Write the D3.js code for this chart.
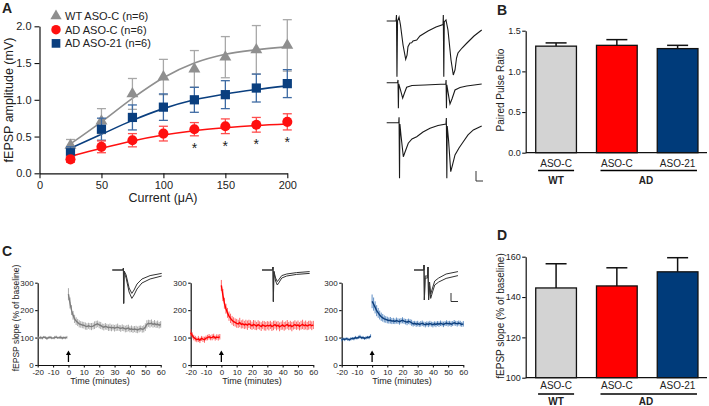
<!DOCTYPE html>
<html><head><meta charset="utf-8">
<script src="https://cdn.jsdelivr.net/npm/d3@7"></script>
<style>body{margin:0;background:#fff}svg{display:block}text{font-family:"Liberation Sans",Arial,sans-serif;fill:#222}</style>
</head><body><svg id="c" width="709" height="406"></svg>
<script>
// ---------- Panel A data ----------
const currents=[25,50,75,100,125,150,175,200];
const wtAmp=[0.38,0.71,1.08,1.31,1.42,1.58,1.68,1.74];
const wtErr=[0.08,0.17,0.21,0.24,0.25,0.28,0.33,0.35];
const adCAmp=[0.19,0.36,0.45,0.54,0.60,0.64,0.66,0.70];
const adCErr=[0.04,0.08,0.09,0.10,0.09,0.10,0.10,0.11];
const ad21Amp=[0.28,0.60,0.76,0.90,1.00,1.07,1.16,1.22];
const ad21Err=[0.08,0.15,0.17,0.18,0.17,0.19,0.19,0.19];
const wtFit=[0.40,0.70,1.02,1.30,1.50,1.62,1.68,1.72];
const adCFit=[0.23,0.34,0.44,0.52,0.58,0.62,0.65,0.67];
const ad21Fit=[0.34,0.53,0.72,0.88,1.00,1.08,1.14,1.19];
const starCurrents=[125,150,175,200];
const ampTicks=[0,0.5,1.0,1.5,2.0];
const currentTicks=[0,50,100,150,200];
const legendLabels=["WT ASO-C (n=6)","AD ASO-C (n=6)","AD ASO-21 (n=6)"];

// example paired-pulse traces [ms, mV]
const traceWT=[[0,0],[9.8,0],[10.3,0.24],[10.8,-2.23],[11.4,0],[13,0.16],[14.5,-0.16],[17.2,-0.96],[20,-1.53],[21.4,-1.37],[22.4,-1.03],[24.5,-0.88],[26.3,-0.87],[27.7,-0.8],[31.6,-0.76],[35,-0.6],[43.5,-0.4],[51.9,-0.24],[59.3,-0.14],[59.6,0.24],[60.1,-2.23],[60.6,-0.04],[62.4,0.04],[64.5,-0.36],[67.7,-1.56],[70.1,-2.16],[71.9,-1.96],[73.5,-1.48],[75,-1.28],[79.3,-1.08],[84.2,-0.89],[91.9,-0.6],[100,-0.36]];
const traceADC=[[0,0],[11.4,0],[11.9,0.11],[12.3,-1.02],[12.7,-0.05],[14.5,-0.29],[16.8,-0.62],[18.7,-0.41],[21,-0.18],[26.6,-0.11],[40.3,-0.09],[62.2,-0.05],[62.5,0.11],[62.9,-1.02],[63.3,-0.09],[64.5,-0.37],[66.6,-0.85],[68.7,-0.65],[71.9,-0.29],[77.2,-0.19],[84.2,-0.13],[100,-0.05]];
const traceAD21=[[0,0],[12.7,0],[13,0.22],[13.5,-2.22],[13.9,-0.05],[15,-0.49],[17.5,-1.36],[19.3,-1.17],[22.7,-0.82],[26.6,-0.65],[31.6,-0.56],[38.2,-0.37],[45.6,-0.22],[54,-0.11],[62.4,-0.05],[62.8,0.19],[63.3,-2.22],[63.7,-0.13],[65.1,-0.69],[67.4,-1.96],[69.3,-1.69],[71.9,-1.29],[76.1,-1.01],[80.6,-0.76],[85.6,-0.49],[91.2,-0.29],[100,-0.13]];

// ---------- Panel B / D data ----------
const groups=["ASO-C","ASO-C","ASO-21"];
const pprValues=[1.31,1.32,1.28];
const pprErr=[0.04,0.07,0.04];
const pprTicks=[0,0.5,1.0,1.5];
const ltpValues=[144.5,145.5,152.5];
const ltpErr=[12,9,7];
const ltpTicks=[100,120,140,160];

// ---------- Panel C data ----------
const baseTimes=d3.range(-20,0);
const postTimes=d3.range(0,61);
const wtBase=[101,99,100,98,102,100,97,100,101,99,98,100,102,99,100,101,98,100,99,101];
const wtBaseErr=[5,4,6,5,4,5,6,4,5,5,4,6,5,4,5,6,5,4,5,5];
const wtPost=[258,226,200,181,168,160,155,150,148,146,145,142,140,143,141,140,142,145,148,150,146,144,140,138,141,139,136,138,135,137,134,136,138,135,133,136,134,131,133,135,130,132,129,131,130,128,131,133,130,132,138,148,152,150,153,148,151,147,149,145,148];
const wtPostErr=[22,20,18,16,15,14,13,13,12,12,12,13,12,11,12,13,12,14,13,12,12,13,11,12,12,11,12,13,12,11,12,12,13,11,12,12,11,12,13,12,11,12,12,11,13,12,12,11,12,13,14,15,13,14,13,12,13,12,13,12,12];
const adCBase=[118,108,100,96,92,95,90,97,94,92,98,100,103,99,101,104,98,102,100,103];
const adCBaseErr=[12,11,10,10,9,11,10,9,10,11,9,10,10,9,11,10,9,10,11,10];
const adCPost=[290,255,225,205,190,178,170,163,158,155,152,150,155,148,150,146,149,145,150,147,143,148,145,142,147,144,140,146,143,141,145,142,146,140,144,147,142,145,139,143,146,141,144,148,142,145,140,144,147,143,146,141,145,148,143,146,142,145,147,143,146];
const adCPostErr=[20,22,20,18,18,17,17,16,16,15,16,15,17,15,16,15,16,17,15,16,15,16,17,15,16,15,16,15,17,16,15,16,15,16,17,15,16,15,16,15,17,16,15,16,15,16,17,15,16,15,16,15,16,17,15,16,15,16,15,16,15];
const ad21Base=[92,95,93,96,94,92,95,97,96,100,98,101,103,99,100,97,99,101,100,106];
const ad21BaseErr=[6,5,6,5,6,5,6,5,6,6,5,6,7,5,6,5,6,5,6,6];
const ad21Post=[232,222,210,198,190,182,176,172,168,166,164,162,163,160,161,159,162,160,158,161,163,160,158,156,159,157,154,150,152,149,151,148,150,152,149,147,150,148,151,149,147,150,148,151,149,152,150,148,151,153,150,152,149,151,154,152,150,153,151,148,150];
const ad21PostErr=[25,24,22,20,18,16,15,14,13,12,12,11,12,11,11,10,11,10,11,10,11,10,10,11,10,10,11,10,9,10,10,9,10,10,9,10,9,10,10,9,10,9,10,9,10,10,9,10,9,10,10,9,10,9,10,9,10,9,10,9,10];
const ltpYTicks=[0,100,200,300];
const timeTicks=[-20,-10,0,10,20,30,40,50,60];

// inset traces [ms, mV]: baseline sweep and post-LTP sweep
const insetWT=[[[0,0],[4.3,0],[4.5,0.09],[4.6,-1.67],[4.8,-0.05],[5.6,-0.25],[6.8,-0.9],[7.9,-1.17],[8.8,-1.0],[10,-0.7],[12,-0.45],[15.3,-0.28],[20,-0.17]],
 [[0,0],[4.3,0],[4.5,0.09],[4.6,-1.67],[4.8,-0.1],[5.6,-0.4],[6.8,-1.1],[7.9,-1.42],[8.8,-1.25],[10,-0.95],[12,-0.65],[15.3,-0.45],[20,-0.3]]];
const insetADC=[[[0,0],[4.3,0],[4.45,0.15],[4.6,-1.58],[4.8,-0.05],[5.5,-0.4],[6.2,-0.58],[7,-0.45],[8,-0.28],[10,-0.2],[14,-0.13],[19.3,-0.08]],
 [[0,0],[4.3,0],[4.45,0.15],[4.6,-1.58],[4.8,-0.1],[5.5,-0.55],[6.2,-0.75],[7,-0.6],[8,-0.4],[10,-0.3],[14,-0.22],[19.3,-0.17]]];
const insetAD21=[[[0,0],[4,0],[4.05,0.25],[4.2,-1.5],[4.5,-0.3],[5.5,-0.3],[5.67,0.15],[5.9,-1.5],[6.3,-0.6],[6.76,-1.2],[7.5,-0.9],[8.4,-0.55],[10,-0.4],[13,-0.2],[17.8,-0.08]],
 [[0,0],[4,0],[4.05,0.25],[4.2,-1.5],[4.5,-0.4],[5.5,-0.4],[5.67,0.15],[5.9,-1.5],[6.3,-0.8],[6.76,-1.42],[7.5,-1.1],[8.4,-0.75],[10,-0.6],[13,-0.42],[17.8,-0.28]]];

// ---------- styles ----------
const GRAY="#8f8f8f", RED="#ff1010", BLUE="#0a3f7f";
const BAR_GRAY="#d3d3d3", BAR_RED="#ff0000", BAR_BLUE="#003b7a";
const svg=d3.select("#c");
const plain=d=>String(d);

function styleAxis(g,fs){
  g.select(".domain").attr("stroke","#111").attr("stroke-width",1.2);
  g.selectAll(".tick line").attr("stroke","#111").attr("stroke-width",1.1);
  g.selectAll(".tick text").attr("fill","#222").style("font-size",fs+"px").style("font-family",'"Liberation Sans",Arial,sans-serif');
}
function panelLabel(t,x,y){svg.append("text").attr("x",x).attr("y",y).style("font-size","14px").style("font-weight","bold").attr("fill","#000").text(t);}

// ================= Panel A =================
const xA=d3.scaleLinear().domain([0,200]).range([39.5,287.3]);
const yA=d3.scaleLinear().domain([0,2]).range([173.3,26.3]);
panelLabel("A",2,13);
svg.append("g").attr("transform","translate(0,173.3)").call(d3.axisBottom(xA).tickValues(currentTicks).tickSize(5).tickSizeOuter(0)).call(g=>styleAxis(g,11));
svg.append("g").attr("transform","translate(39.5,0)").call(d3.axisLeft(yA).tickValues(ampTicks).tickFormat(d3.format(".1f")).tickSize(5).tickSizeOuter(0)).call(g=>styleAxis(g,11));
svg.append("text").attr("transform","translate(13,100) rotate(-90)").attr("text-anchor","middle").style("font-size","12.5px").text("fEPSP amplitude (mV)");
svg.append("text").attr("x",163).attr("y",202).attr("text-anchor","middle").style("font-size","12.5px").text("Current (\u03bcA)");

const seriesA=[
 {v:wtAmp,e:wtErr,f:wtFit,c:GRAY,ec:"#a8a8a8",sym:d3.symbolTriangle,size:62},
 {v:ad21Amp,e:ad21Err,f:ad21Fit,c:BLUE,ec:"#3d6aa3",sym:d3.symbolSquare,size:85},
 {v:adCAmp,e:adCErr,f:adCFit,c:RED,ec:"#ff4d4d",sym:d3.symbolCircle,size:80}
];
const fitLine=d3.line().x((d,i)=>xA(currents[i])).y(d=>yA(d)).curve(d3.curveMonotoneX);
seriesA.forEach(s=>{
  svg.append("path").attr("d",fitLine(s.f)).attr("fill","none").attr("stroke",s.c).attr("stroke-width",1.6);
});
seriesA.forEach(s=>{
  const g=svg.append("g");
  currents.forEach((cur,i)=>{
    const x=xA(cur), y1=yA(s.v[i]+s.e[i]), y0=yA(s.v[i]-s.e[i]);
    g.append("line").attr("x1",x).attr("x2",x).attr("y1",y1).attr("y2",y0).attr("stroke",s.ec).attr("stroke-width",1.3);
    [y1,y0].forEach(yy=>g.append("line").attr("x1",x-4.5).attr("x2",x+4.5).attr("y1",yy).attr("y2",yy).attr("stroke",s.ec).attr("stroke-width",1.3));
    g.append("path").attr("d",d3.symbol(s.sym,s.size)()).attr("transform",`translate(${x},${yA(s.v[i])})`).attr("fill",s.c);
  });
});
starCurrents.forEach(c=>{
  const i=currents.indexOf(c);
  svg.append("text").attr("x",xA(c)).attr("y",yA(adCAmp[i]-adCErr[i])+17).attr("text-anchor","middle").style("font-size","14px").attr("fill","#222").text("*");
});
// legend
const legSym=[[d3.symbolTriangle,GRAY,55],[d3.symbolCircle,RED,70],[d3.symbolSquare,BLUE,75]];
legendLabels.forEach((t,i)=>{
  const y=16+i*13.7;
  svg.append("path").attr("d",d3.symbol(legSym[i][0],legSym[i][2])()).attr("transform",`translate(56,${y})`).attr("fill",legSym[i][1]);
  svg.append("text").attr("x",65).attr("y",y+4).style("font-size","11px").attr("fill","#333").text(t);
});

// example traces
const xT=d3.scaleLinear().domain([0,100]).range([386.7,481.7]);
[[traceWT,21],[traceADC,82.7],[traceAD21,122.7]].forEach(([tr,b])=>{
  const yT=d3.scaleLinear().domain([0,1]).range([b,b-25]);
  svg.append("path").attr("d",d3.line().x(d=>xT(d[0])).y(d=>yT(d[1]))(tr)).attr("fill","none").attr("stroke","#1a1a1a").attr("stroke-width",1.1);
});
svg.append("path").attr("d","M476,171V181H483").attr("fill","none").attr("stroke","#333").attr("stroke-width",1);

// ================= Panels B & D =================
const xB=d3.scaleBand().domain([0,1,2]).range([525.7,708]).paddingInner(0.33).paddingOuter(0.165);
const barFills=[BAR_GRAY,BAR_RED,BAR_BLUE];
function barPanel(yScale,vals,errs,ticks,fmt,axisY,ylabel,ylx,yly,labY,lineY,grpY,bottomVal){
  svg.append("g").attr("transform",`translate(525.7,0)`).call(d3.axisLeft(yScale).tickValues(ticks).tickFormat(fmt).tickSize(3.5).tickPadding(1.5).tickSizeOuter(0)).call(g=>styleAxis(g,9));
  svg.append("line").attr("x1",525.7).attr("x2",707).attr("y1",axisY).attr("y2",axisY).attr("stroke","#111").attr("stroke-width",1.2);
  vals.forEach((v,i)=>{
    const x=xB(i), w=xB.bandwidth(), cx=x+w/2;
    svg.append("line").attr("x1",cx).attr("x2",cx).attr("y1",yScale(v)).attr("y2",yScale(v+errs[i])).attr("stroke","#111").attr("stroke-width",1.5);
    svg.append("line").attr("x1",cx-10.5).attr("x2",cx+10.5).attr("y1",yScale(v+errs[i])).attr("y2",yScale(v+errs[i])).attr("stroke","#111").attr("stroke-width",1.5);
    svg.append("rect").attr("x",x).attr("y",yScale(v)).attr("width",w).attr("height",yScale(bottomVal)-yScale(v)).attr("fill",barFills[i]).attr("stroke","#111").attr("stroke-width",1.3);
    svg.append("text").attr("x",cx).attr("y",labY).attr("text-anchor","middle").style("font-size","10px").text(groups[i]);
  });
  const c0=xB(0)+xB.bandwidth()/2;
  svg.append("line").attr("x1",c0-18).attr("x2",c0+18).attr("y1",lineY).attr("y2",lineY).attr("stroke","#000").attr("stroke-width",1.5);
  svg.append("line").attr("x1",xB(1)+4).attr("x2",xB(2)+xB.bandwidth()-1).attr("y1",lineY).attr("y2",lineY).attr("stroke","#000").attr("stroke-width",1.5);
  svg.append("text").attr("x",c0).attr("y",grpY).attr("text-anchor","middle").style("font-size","10px").style("font-weight","bold").text("WT");
  svg.append("text").attr("x",646).attr("y",grpY).attr("text-anchor","middle").style("font-size","10px").style("font-weight","bold").text("AD");
  svg.append("text").attr("transform",`translate(${ylx},${yly}) rotate(-90)`).attr("text-anchor","middle").style("font-size","10px").text(ylabel);
}
const yB=d3.scaleLinear().domain([0,1.5]).range([152.7,30.7]);
panelLabel("B",497,15);
barPanel(yB,pprValues,pprErr,pprTicks,d3.format(".1f"),152.7,"Paired Pulse Ratio",504,90,166.5,170.5,183.5,0);
const yD=d3.scaleLinear().domain([100,160]).range([377.7,256.7]);
panelLabel("D",497,240);
barPanel(yD,ltpValues,ltpErr,ltpTicks,d3.format("d"),377.7,"fEPSP slope (% of baseline)",503.5,316,389,394,404.5,100);

// ================= Panel C =================
panelLabel("C",2,256);
const yC=d3.scaleLinear().domain([0,300]).range([365,282.7]);
function ltpPanel(x0,x1,base,baseErr,post,postErr,col,ecol,inset,insetX0,cx){
  const x=d3.scaleLinear().domain([-20,60]).range([x0,x1]);
  svg.append("g").attr("transform","translate(0,365)").call(d3.axisBottom(x).tickValues(timeTicks).tickFormat(plain).tickSize(2.5).tickPadding(1.5).tickSizeOuter(0)).call(g=>styleAxis(g,8));
  svg.append("g").attr("transform",`translate(${x0},0)`).call(d3.axisLeft(yC).tickValues(ltpYTicks).tickFormat(plain).tickSize(2.5).tickPadding(1.5).tickSizeOuter(0)).call(g=>styleAxis(g,8));
  svg.append("text").attr("x",cx).attr("y",384).attr("text-anchor","middle").style("font-size","9px").text("Time (minutes)");
  const g=svg.append("g");
  [[baseTimes,base,baseErr],[postTimes,post,postErr]].forEach(([ts,vs,es])=>{
    ts.forEach((t,i)=>{
      g.append("line").attr("x1",x(t)).attr("x2",x(t)).attr("y1",yC(vs[i]+es[i])).attr("y2",yC(vs[i]-es[i])).attr("stroke",ecol).attr("stroke-width",1);
    });
    g.append("path").attr("d",d3.line().x((d,i)=>x(ts[i])).y(d=>yC(d))(vs)).attr("fill","none").attr("stroke",col).attr("stroke-width",1.4);
  });
  // arrow at tetanus
  const ax=x(0);
  svg.append("line").attr("x1",ax).attr("x2",ax).attr("y1",362).attr("y2",354).attr("stroke","#000").attr("stroke-width",1.3);
  svg.append("path").attr("d",`M${ax-2.5},355L${ax},350.5L${ax+2.5},355Z`).attr("fill","#000");
  // inset
  const xi=d3.scaleLinear().domain([0,1]).range([insetX0,insetX0+2.47]);
  const yi=d3.scaleLinear().domain([0,1]).range([270,250]);
  inset.forEach(tr=>{
    svg.append("path").attr("d",d3.line().x(d=>xi(d[0])).y(d=>yi(d[1]))(tr)).attr("fill","none").attr("stroke","#333").attr("stroke-width",1);
  });
}
ltpPanel(37.7,160.7,wtBase,wtBaseErr,wtPost,wtPostErr,"#7d7d7d","#a9a9a9",insetWT,112.3,100);
ltpPanel(190.7,313.3,adCBase,adCBaseErr,adCPost,adCPostErr,"#ff0000","#ff6666",insetADC,262,252);
ltpPanel(341.7,463.3,ad21Base,ad21BaseErr,ad21Post,ad21PostErr,"#0d3f7d","#5f8ec4",insetAD21,414,402);
svg.append("path").attr("d","M451,293V301.5H458").attr("fill","none").attr("stroke","#333").attr("stroke-width",1);
svg.append("text").attr("transform","translate(19,318) rotate(-90)").attr("text-anchor","middle").style("font-size","8.5px").text("fEPSP slope (% of baseline)");
</script></body></html>
